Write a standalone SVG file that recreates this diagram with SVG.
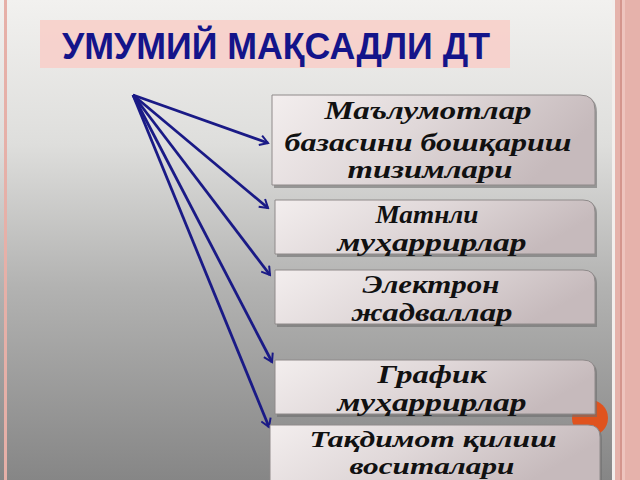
<svg xmlns="http://www.w3.org/2000/svg" width="640" height="480" viewBox="0 0 640 480">
<defs>
<linearGradient id="bg" x1="0" y1="0" x2="0" y2="1">
<stop offset="0" stop-color="#f2f1ef"/>
<stop offset="0.3" stop-color="#dededc"/>
<stop offset="0.6" stop-color="#b2b2b1"/>
<stop offset="1" stop-color="#868686"/>
</linearGradient>
<linearGradient id="box" x1="0" y1="0" x2="1" y2="0.3">
<stop offset="0" stop-color="#f3eeee"/>
<stop offset="0.5" stop-color="#e0d8d9"/>
<stop offset="1" stop-color="#c6babc"/>
</linearGradient>
<marker id="ah" viewBox="0 0 12 12" refX="10" refY="6" markerWidth="12" markerHeight="12" markerUnits="userSpaceOnUse" orient="auto">
<path d="M2,1 L10,6 L2,11" fill="none" stroke="#1a1a86" stroke-width="2"/>
</marker>
</defs>
<style>
.bx{fill:url(#box);stroke:#8f8a8a;stroke-width:1}
.sh{fill:#6e6e6e;opacity:0.6}
.t{font-family:"Liberation Serif",serif;font-weight:bold;font-style:italic;font-size:25px;fill:#111;text-anchor:middle}
.s{font-size:23px}
.ar{fill:none;stroke:#1a1a86;stroke-width:2.8;marker-end:url(#ah)}
</style>
<rect x="0" y="0" width="640" height="480" fill="url(#bg)"/>
<rect x="4" y="0" width="3" height="480" fill="#e6b0a8"/>
<rect x="612" y="0" width="3" height="480" fill="#f3eeec"/>
<rect x="615" y="0" width="25" height="480" fill="#e6b2ab"/>
<rect x="620" y="0" width="2" height="480" fill="#d4958d"/>
<rect x="622" y="0" width="3" height="480" fill="#eec4be"/>
<rect x="40" y="20" width="470" height="48" fill="#f7cfca" opacity="0.9"/>
<text x="62" y="59" font-family="Liberation Sans Narrow,Liberation Sans,sans-serif" font-weight="bold" font-size="37" fill="#14148a" textLength="428" lengthAdjust="spacingAndGlyphs">УМУМИЙ МАҚСАДЛИ ДТ</text>
<circle cx="590" cy="418" r="18" fill="#e0531e"/>
<g id="connectors">
<line class="ar" x1="133" y1="95" x2="268" y2="143"/>
<line class="ar" x1="133" y1="95" x2="268" y2="208"/>
<line class="ar" x1="133" y1="95" x2="270" y2="275"/>
<line class="ar" x1="133" y1="95" x2="272" y2="362"/>
<line class="ar" x1="133" y1="95" x2="269" y2="427"/>
</g>
<g id="n1">
<path class="sh" d="M274,97 H582 Q597,97 597,112 V188 H274 Z"/>
<path class="bx" d="M272,95 H580 Q595,95 595,110 V185 H272 Z"/>
<text class="t" x="428" y="119" textLength="207" lengthAdjust="spacingAndGlyphs">Маълумотлар</text>
<text class="t" x="428" y="151" textLength="287" lengthAdjust="spacingAndGlyphs">базасини бошқариш</text>
<text class="t" x="430" y="178" textLength="165" lengthAdjust="spacingAndGlyphs">тизимлари</text>
</g>
<g id="n2">
<path class="sh" d="M277,202 H585 Q597,202 597,214 V257 H277 Z"/>
<path class="bx" d="M275,200 H583 Q595,200 595,212 V254 H275 Z"/>
<text class="t" x="427" y="223" textLength="103" lengthAdjust="spacingAndGlyphs">Матнли</text>
<text class="t" x="432" y="251" textLength="189" lengthAdjust="spacingAndGlyphs">муҳаррирлар</text>
</g>
<g id="n3">
<path class="sh" d="M277,272 H585 Q597,272 597,284 V327 H277 Z"/>
<path class="bx" d="M275,270 H583 Q595,270 595,282 V324 H275 Z"/>
<text class="t" x="431" y="293" textLength="137" lengthAdjust="spacingAndGlyphs">Электрон</text>
<text class="t" x="432" y="321" textLength="161" lengthAdjust="spacingAndGlyphs">жадваллар</text>
</g>
<g id="n4">
<path class="sh" d="M277,362 H585 Q597,362 597,374 V417 H277 Z"/>
<path class="bx" d="M275,360 H583 Q595,360 595,372 V414 H275 Z"/>
<text class="t" x="432" y="383" textLength="109" lengthAdjust="spacingAndGlyphs">График</text>
<text class="t" x="432" y="411" textLength="189" lengthAdjust="spacingAndGlyphs">муҳаррирлар</text>
</g>
<g id="n5">
<path class="sh" d="M272,427 H590 Q602,427 602,439 V480 H272 Z"/>
<path class="bx" d="M270,425 H588 Q600,425 600,437 V481 H270 Z"/>
<text class="t s" x="433" y="447" textLength="247" lengthAdjust="spacingAndGlyphs">Тақдимот қилиш</text>
<text class="t s" x="432" y="474" textLength="165" lengthAdjust="spacingAndGlyphs">воситалари</text>
</g>
</svg>
